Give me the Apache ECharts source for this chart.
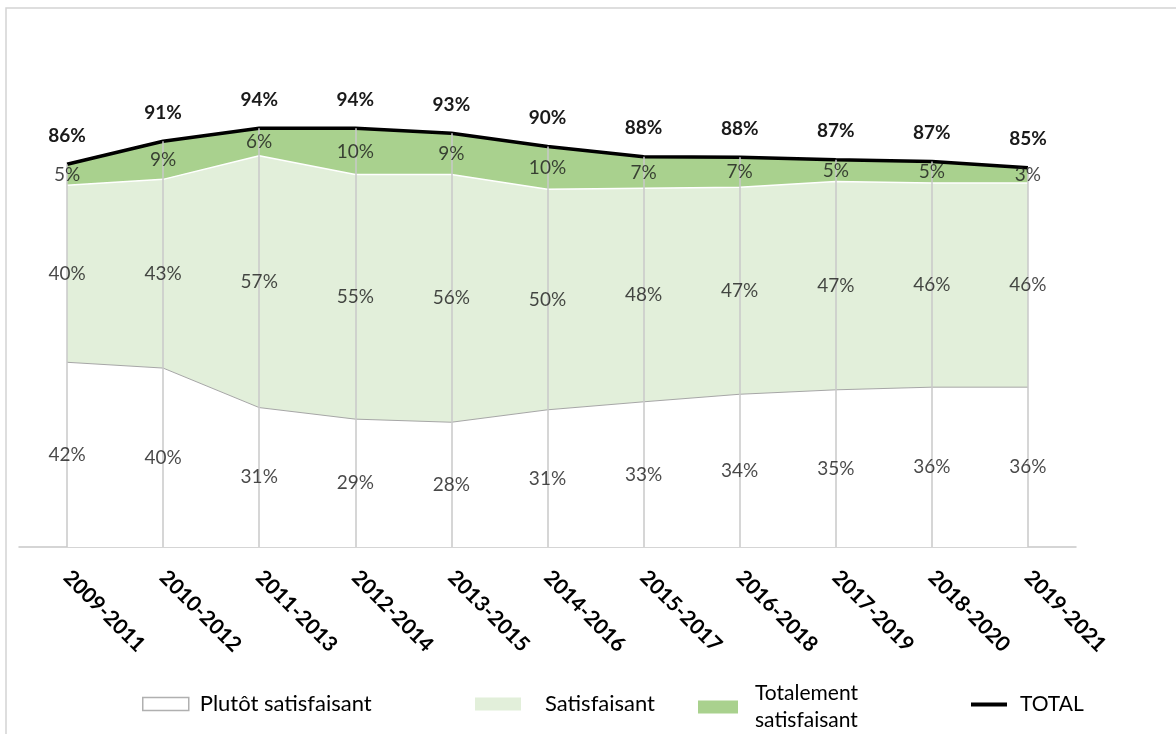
<!DOCTYPE html>
<html>
<head>
<meta charset="utf-8">
<script src="https://cdn.jsdelivr.net/npm/echarts@6/dist/echarts.min.js"></script>
<style>
  html, body { margin: 0; padding: 0; background: #fff; }
  #chart { width: 1176px; height: 734px; }
</style>
</head>
<body>
<div id="chart"></div>
<script>
// periods on the x axis
const categories = ['2009-2011', '2010-2012', '2011-2013', '2012-2014', '2013-2015', '2014-2016',
  '2015-2017', '2016-2018', '2017-2019', '2018-2020', '2019-2021'];
// values in % (labels show rounded values)
const plutot = [41.6, 40.3, 31.4, 28.8, 28.1, 30.9, 32.7, 34.4, 35.4, 36.0, 36.0];
const satisfaisant = [39.9, 42.5, 56.7, 55.1, 55.8, 49.7, 48.1, 46.6, 46.9, 46.0, 46.0];
const totalement = [4.7, 8.6, 6.2, 10.4, 9.3, 9.6, 7.1, 6.8, 4.9, 4.8, 3.4];
const total = [86.2, 91.4, 94.3, 94.3, 93.2, 90.2, 87.9, 87.8, 87.2, 86.8, 85.4];

const FONT = 'Lato, "Open Sans", sans-serif';
const pct = v => Math.round(v) + '%';

// labels sit in the middle of each band
const bandLabels = [];
categories.forEach((c, i) => {
  let base = 0;
  [plutot, satisfaisant, totalement].forEach(arr => {
    bandLabels.push([c, base + arr[i] / 2, arr[i]]);
    base += arr[i];
  });
});

// drop lines from the axis up to the total
const dropLines = categories.map((c, i) => [{ coord: [c, 0] }, { coord: [c, total[i]] }]);

const chart = echarts.init(document.getElementById('chart'));

const option = {
  animation: false,
  textStyle: { fontFamily: FONT },
  graphic: [{
    type: 'rect',
    shape: { x: 6, y: 8, width: 1300, height: 900 },
    style: { fill: 'none', stroke: '#d4d4d4', lineWidth: 1.5 },
    silent: true
  }],
  grid: { left: 19, right: 100, top: 103, bottom: 187 },
  xAxis: {
    type: 'category',
    data: categories,
    boundaryGap: true,
    axisLine: { lineStyle: { color: '#c8c8c8', width: 1.5 } },
    axisTick: { show: false },
    axisLabel: {
      rotate: -45,
      margin: 27,
      fontSize: 21,
      fontWeight: 'bold',
      color: '#000',
      fontFamily: FONT
    },
    splitLine: { show: false }
  },
  yAxis: {
    type: 'value',
    min: 0,
    max: 100,
    show: false
  },
  legend: [
    {
      left: 137, top: 688, itemWidth: 46, itemHeight: 13, icon: 'rect',
      textStyle: { fontSize: 22, color: '#000', padding: [0, 0, 0, 6] },
      data: [{ name: 'Plutôt satisfaisant', itemStyle: { color: '#fff', borderColor: '#b0b0b0', borderWidth: 1.5 } }]
    },
    {
      left: 470, top: 688, itemWidth: 46, itemHeight: 13, icon: 'rect',
      textStyle: { fontSize: 22, color: '#000', padding: [0, 0, 0, 19] },
      data: [{ name: 'Satisfaisant', itemStyle: { color: '#e2efda', borderWidth: 0 } }]
    },
    {
      left: 693, top: 675, itemWidth: 40, itemHeight: 13, icon: 'rect',
      textStyle: { fontSize: 21, color: '#000', lineHeight: 27, padding: [0, 0, 0, 12] },
      formatter: name => name.replace(' ', '\n'),
      data: [{ name: 'Totalement satisfaisant', itemStyle: { color: '#a9d18e', borderWidth: 0 } }]
    },
    {
      left: 966, top: 689, itemWidth: 36, itemHeight: 4, icon: 'rect',
      textStyle: { fontSize: 21, color: '#000', padding: [0, 0, 0, 8] },
      data: [{ name: 'TOTAL', itemStyle: { color: '#000', borderWidth: 0 } }]
    }
  ],
  series: [
    {
      name: 'Plutôt satisfaisant',
      type: 'line',
      stack: 'sat',
      data: plutot,
      showSymbol: false,
      lineStyle: { color: '#a6a6a6', width: 1 },
      areaStyle: { color: '#ffffff', opacity: 1 },
      itemStyle: { color: '#ffffff' }
    },
    {
      name: 'Satisfaisant',
      type: 'line',
      stack: 'sat',
      data: satisfaisant,
      showSymbol: false,
      lineStyle: { color: '#ffffff', width: 1.5 },
      areaStyle: { color: '#e2efda', opacity: 1 },
      itemStyle: { color: '#e2efda' }
    },
    {
      name: 'Totalement satisfaisant',
      type: 'line',
      stack: 'sat',
      data: totalement,
      showSymbol: false,
      lineStyle: { color: '#a9d18e', width: 0 },
      areaStyle: { color: '#a9d18e', opacity: 1 },
      itemStyle: { color: '#a9d18e' }
    },
    {
      name: 'TOTAL',
      type: 'line',
      data: total,
      showSymbol: true,
      symbol: 'circle',
      symbolSize: 0,
      lineStyle: { color: '#000', width: 3.5 },
      itemStyle: { color: '#000' },
      label: {
        show: true,
        position: 'top',
        distance: 19,
        fontSize: 19,
        fontWeight: 'bold',
        color: '#1a1a1a',
        formatter: p => pct(p.value)
      },
      markLine: {
        silent: true,
        symbol: 'none',
        label: { show: false },
        lineStyle: { color: '#c8c8c8', width: 1.5, type: 'solid' },
        data: dropLines
      },
      z: 3
    },
    {
      name: 'labels',
      type: 'scatter',
      data: bandLabels,
      symbolSize: 0,
      silent: true,
      label: {
        show: true,
        position: 'inside',
        fontSize: 19,
        color: '#1a1a1a',
        formatter: p => pct(p.value[2])
      },
      z: 5
    }
  ]
};

chart.setOption(option);
</script>
</body>
</html>
